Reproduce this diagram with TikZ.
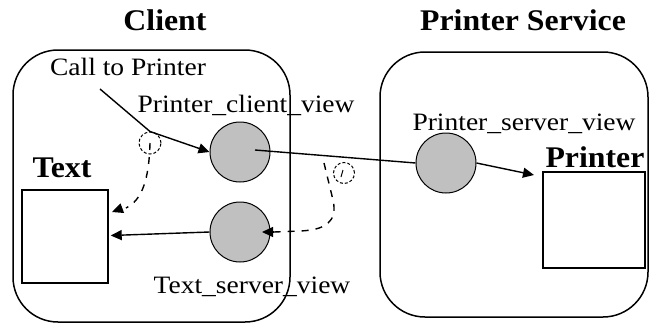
\documentclass[tikz,border=0pt]{standalone}
\usepackage{fontspec}
\setmainfont{Liberation Serif}
\newfontfamily\lblfont[FakeStretch=1.1]{Liberation Serif}
\newfontfamily\ttlfont[FakeStretch=1.06]{Liberation Serif}
\usetikzlibrary{arrows.meta,calc}
\definecolor{viewgray}{HTML}{C0C0C0}
\tikzset{
  frame/.style={draw, line width=1.5pt, rounded corners=45pt, inner sep=0pt},
  objbox/.style={draw, line width=1.4pt, inner sep=0pt},
  viewcirc/.style={circle, draw, line width=1pt, fill=viewgray, minimum size=60pt, inner sep=0pt},
  callcirc/.style={circle, draw, line width=1pt, dash pattern=on 3pt off 2pt, minimum size=22pt, inner sep=0pt},
  lbl/.style={font=\lblfont\fontsize{25}{30}\selectfont, inner sep=0pt, anchor=base},
  ttl/.style={font=\ttlfont\bfseries\fontsize{30}{36}\selectfont, inner sep=0pt, anchor=base},
  conn/.style={line width=1.4pt},
  tip/.style={-{Triangle[length=11pt,width=10pt]}},
  dashconn/.style={line width=1.4pt, dash pattern=on 7pt off 7pt},
}
\begin{document}
\begin{tikzpicture}[x=1pt,y=-1pt]
\useasboundingbox (0,0) rectangle (651,325);

% titles
\node[ttl] (tclient) at (165,30) {Client};
\node[ttl] (tservice) at (523,30) {Printer Service};

% component frames
\node[frame, minimum width=277pt, minimum height=272pt] (client) at (151.5,186) {};
\node[frame, minimum width=268pt, minimum height=265pt] (service) at (514,184.5) {};

% object boxes and their names
\node[objbox, minimum width=86pt, minimum height=93pt] (textbox) at (65,236.5) {};
\node[objbox, minimum width=102pt, minimum height=96pt] (printerbox) at (594,220) {};
\node[ttl] (ttext) at (62,177) {Text};
\node[ttl] (tprinter) at (595,167) {Printer};

% views
\node[viewcirc] (pcv) at (240,152) {};
\node[viewcirc] (tsv) at (240,232) {};
\node[viewcirc] (psv) at (446,163) {};

% view labels
\node[lbl] (callp) at (128,75) {Call to Printer};
\node[lbl] (lpcv) at (246,112) {Printer\_client\_view};
\node[lbl] (lpsv) at (524,130) {Printer\_server\_view};
\node[lbl] (ltsv) at (252,293) {Text\_server\_view};

% call markers
\node[callcirc] (s1) at (150,143) {};
\node[callcirc, minimum size=21pt] (s2) at (344,173) {};
\draw[line width=1pt] (343,170) -- (341,177);

% free ends of connectors
\coordinate (cstart) at (100,89);
\coordinate (pin) at (534,175);
\coordinate (tin) at (112,212);
\coordinate (rstart) at (324,163);
\coordinate (rbend) at (333,200);
\coordinate (rin) at (262,232);

% call path: Text -> Printer
\draw[conn] (cstart) -- (s1.north);
\draw[conn, tip] (s1.north) -- (pcv.west);
\draw[conn] ($(pcv.center)+(15,-2)$) -- (psv.west);
\draw[conn, tip] (psv.east) -- (pin);

% return path: Printer -> Text
\draw[dashconn] (rstart) -- (rbend) .. controls (338,222) and (325,230) .. (300,231) -- ($(rin)+(12,0)$);
\draw[conn, tip] ($(rin)+(12,0)$) -- (rin);
\draw[conn, tip] (tsv.west) -- ($(textbox.east)+(2,-1)$);

% dashed return towards Text
\draw[dashconn] (s1.center) .. controls (149,180) and (142,200) .. ($(tin)+(14,-4)$);
\draw[conn, tip] ($(tin)+(8,-3)$) -- (tin);
\end{tikzpicture}
\end{document}
